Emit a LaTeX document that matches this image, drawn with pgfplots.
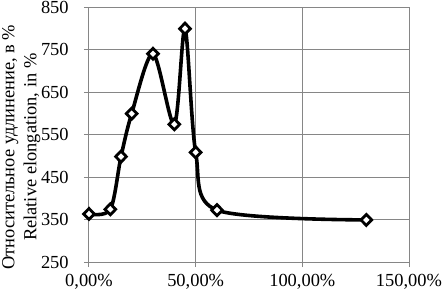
\documentclass[border=0pt]{standalone}
\usepackage{fontspec}
\setmainfont{Liberation Serif}
\usepackage{pgfplots}
\pgfplotsset{compat=1.18}
\definecolor{gridgray}{RGB}{134,134,134}
\begin{document}
\fontsize{18.5}{22}\selectfont
\begin{tikzpicture}
\begin{axis}[
  scale only axis,
  width=320bp, height=255bp,
  xmin=0, xmax=1.5, ymin=250, ymax=850,
  xtick={0,0.5,1,1.5},
  xticklabels={{0,00\%},{50,00\%},{100,00\%},{150,00\%}},
  ytick={250,350,450,550,650,750,850},
  /pgf/number format/assume math mode=true,
  axis line style={gridgray, line width=1pt},
  axis x line*=bottom, axis y line*=left,
  grid=major,
  major grid style={gridgray, line width=1pt},
  tick style={gridgray, line width=1pt},
  tick align=outside,
  major tick length=5bp,
  xtick pos=bottom, ytick pos=left,
  yticklabel style={xshift=-9bp},
  xticklabel style={yshift=-1bp},
  ylabel={Относительное удлинение, в \%\\Relative elongation, in \%},
  ylabel style={align=center, at={(axis description cs:-0.272,0.45)}, anchor=north, rotate=0, inner sep=0pt},
  clip=false,
]
\addplot[black, line width=3.6bp, smooth, tension=0.5,
  mark=diamond*, mark size=5.5bp,
  mark options={fill=white, draw=black, line width=2.8bp, xscale=1.3}]
coordinates {
(0,363) (0.1,374) (0.15,498) (0.2,599) (0.3,740) (0.4,574) (0.45,799) (0.5,508) (0.6,372) (1.3,349)
};
\end{axis}
\pgfresetboundingbox
\path[use as bounding box] (-89bp,-32bp) rectangle (354bp,262bp);
\end{tikzpicture}
\end{document}
